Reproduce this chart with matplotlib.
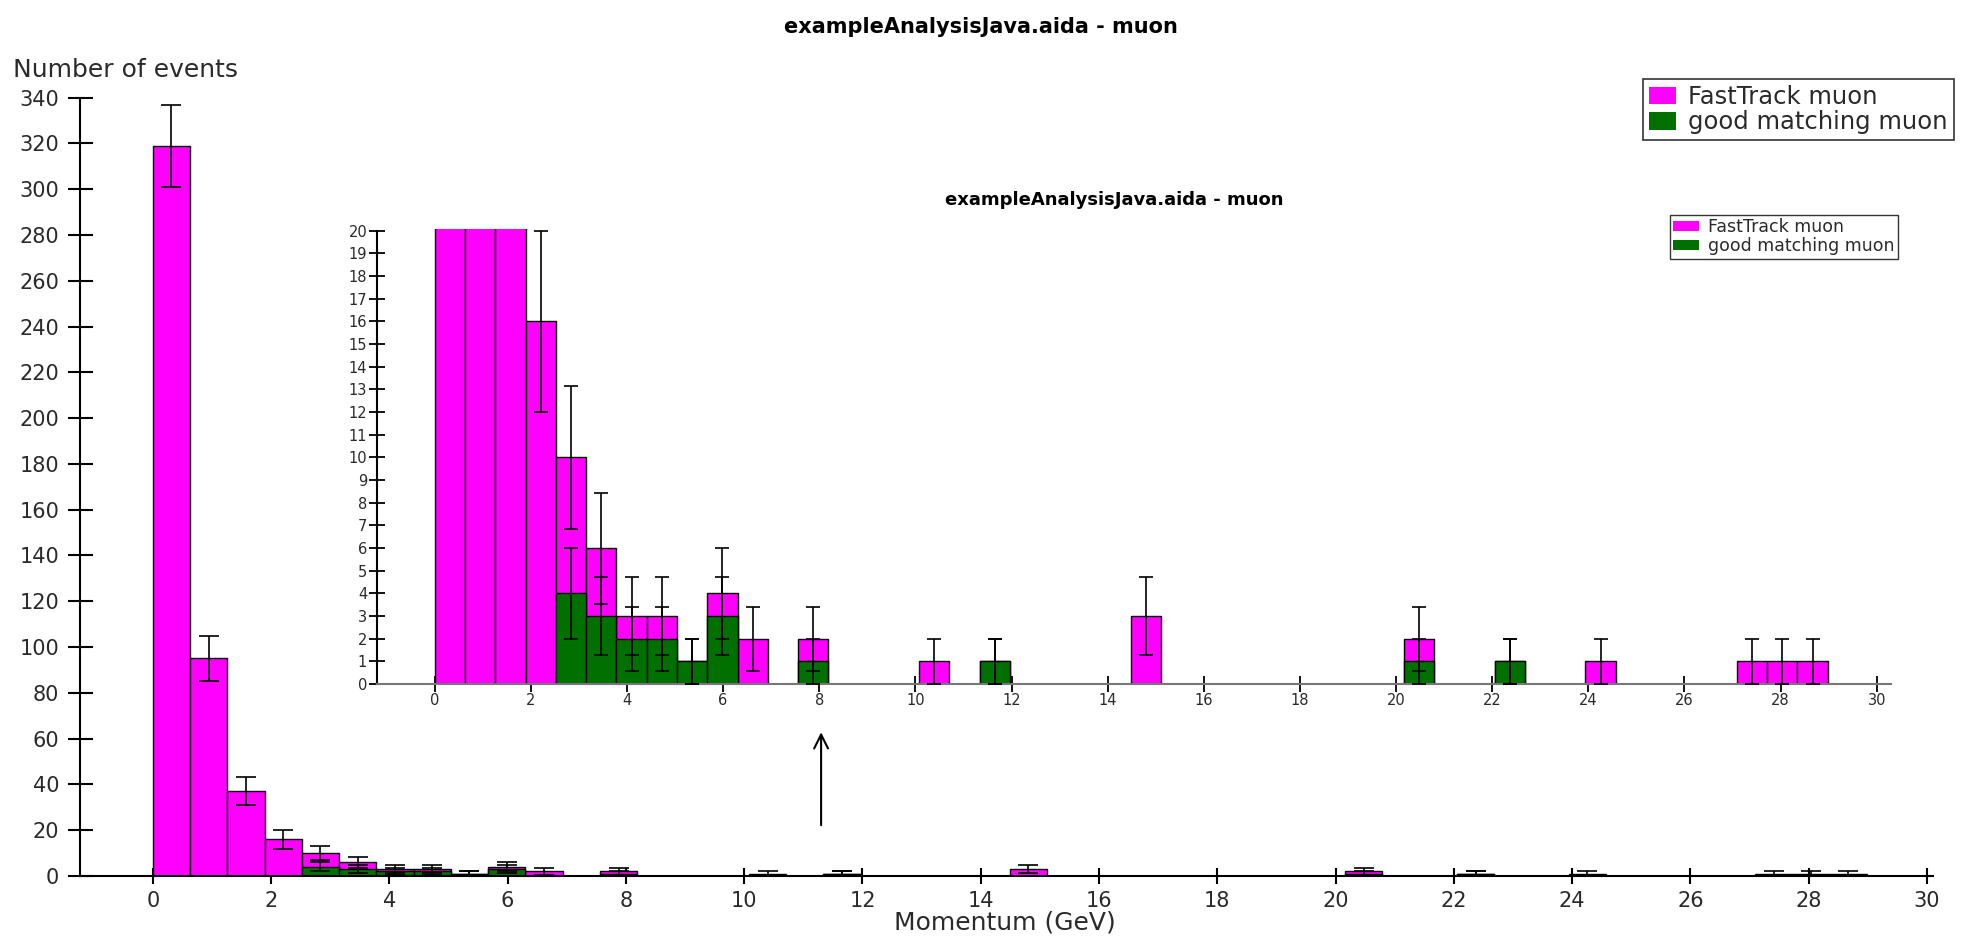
import numpy as np
import matplotlib
matplotlib.use('Agg')
import matplotlib.pyplot as plt
from matplotlib.patches import Patch

plt.rcParams['font.family'] = ['DejaVu Sans']

# histogram data: 0.63 GeV bins starting at 0
bin_width = 0.63
fasttrack_muon = [319, 95, 37, 16, 10, 6, 3, 3, 1, 4, 2, 0, 2, 0, 0, 0, 1, 0, 1, 0,
                  0, 0, 0, 3, 0, 0, 0, 0, 0, 0, 0, 0, 2, 0, 0, 1, 0, 0, 1, 0,
                  0, 0, 0, 1, 1, 1, 0]
good_matching_muon = [0, 0, 0, 0, 4, 3, 2, 2, 1, 3, 0, 0, 1, 0, 0, 0, 0, 0, 1, 0,
                      0, 0, 0, 0, 0, 0, 0, 0, 0, 0, 0, 0, 1, 0, 0, 1, 0, 0, 0, 0,
                      0, 0, 0, 0, 0, 0, 0]
labels = ['FastTrack muon', 'good matching muon']
title = 'exampleAnalysisJava.aida - muon'

MAGENTA = '#ff00ff'
GREEN = '#007000'
TXT = '#2a2a2a'

ft = np.array(fasttrack_muon, dtype=float)
gm = np.array(good_matching_muon, dtype=float)
edges = np.arange(len(ft)) * bin_width
centers = edges + bin_width / 2


def draw_hist(a, capsize, lw):
    for counts, col in [(ft, MAGENTA), (gm, GREEN)]:
        nz = counts > 0
        a.bar(edges[nz], counts[nz], width=bin_width, align='edge', color=col,
              edgecolor='black', linewidth=lw, zorder=2)
    for counts in [ft, gm]:
        nz = counts > 0
        a.errorbar(centers[nz], counts[nz], yerr=np.sqrt(counts[nz]), fmt='none',
                   ecolor='black', elinewidth=1.2, capsize=capsize, capthick=1.2, zorder=3)


fig = plt.figure(figsize=(19.62, 9.38), dpi=100)

# main plot
ax = fig.add_axes([0.0408, 0.0661, 0.9444, 0.8299])
draw_hist(ax, 7, 1.0)
ax.set_xlim(-1.23, 30.1)
ax.set_ylim(0, 340)
ax.set_xticks(range(0, 31, 2))
ax.set_yticks(range(0, 341, 20))
for s in ['top', 'right']:
    ax.spines[s].set_visible(False)
ax.spines['left'].set_linewidth(1.5)
ax.spines['bottom'].set_linewidth(1.5)
ax.tick_params(axis='y', direction='inout', length=18, width=1.5, labelsize=15, pad=6, labelcolor=TXT)
ax.tick_params(axis='x', direction='inout', length=11.5, width=1.5, labelsize=15, pad=5, labelcolor=TXT)

# arrow pointing at the zoomed view
ax.annotate('', xy=(11.3, 64), xytext=(11.3, 21),
            arrowprops=dict(arrowstyle='->', color='black', lw=1.5, mutation_scale=25))

fig.text(0.5, 0.971, title, ha='center', va='center', fontsize=15, fontweight='bold')
fig.text(0.0065, 0.9254, 'Number of events', ha='left', va='center', fontsize=18, color=TXT)
fig.text(0.512, 0.017, 'Momentum (GeV)', ha='center', va='center', fontsize=18, color=TXT)

handles = [Patch(facecolor=MAGENTA), Patch(facecolor=GREEN)]
leg = fig.legend(handles, labels, loc='upper right', bbox_to_anchor=(0.9959, 0.9158),
                 fontsize=17.5, frameon=True, fancybox=False, handlelength=1.1,
                 handleheight=0.75, handletextpad=0.5, borderpad=0.25, labelspacing=0.05,
                 borderaxespad=0)
leg.get_frame().set_edgecolor('black')
leg.get_frame().set_linewidth(1.2)
for t in leg.get_texts():
    t.set_color(TXT)

# zoomed inset
ins = fig.add_axes([0.1919, 0.2708, 0.772, 0.4851])
ins.patch.set_visible(False)
draw_hist(ins, 5, 1.0)
ins.set_xlim(-1.21, 30.3)
ins.set_ylim(0, 20.08)
ins.set_xticks(range(0, 31, 2))
ins.set_yticks(range(0, 21))
for s in ['top', 'right']:
    ins.spines[s].set_visible(False)
ins.spines['left'].set_bounds(0, 20)
ins.spines['left'].set_linewidth(1.5)
ins.spines['bottom'].set_color('#777777')
ins.spines['bottom'].set_linewidth(1.5)
ins.tick_params(axis='both', direction='inout', length=11.5, width=1.3, labelsize=10.5, pad=1, labelcolor=TXT)

fig.text(0.568, 0.787, title, ha='center', va='center', fontsize=13, fontweight='bold')
leg2 = fig.legend(handles, labels, loc='upper right', bbox_to_anchor=(0.9674, 0.771),
                  fontsize=12.5, frameon=True, fancybox=False, handlelength=1.5,
                  handleheight=0.5, handletextpad=0.5, borderpad=0.2, labelspacing=0.05,
                  borderaxespad=0)
leg2.get_frame().set_edgecolor('black')
leg2.get_frame().set_linewidth(1.0)
for t in leg2.get_texts():
    t.set_color(TXT)

fig.savefig('out.png', dpi=100, facecolor='white')
